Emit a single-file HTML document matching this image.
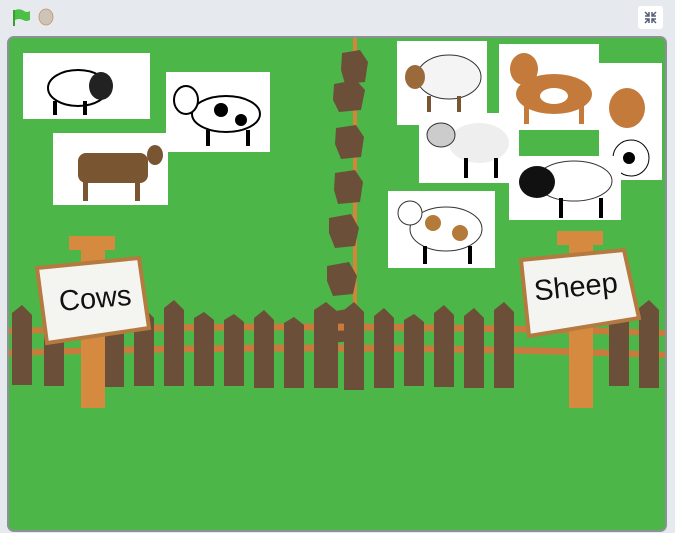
<!DOCTYPE html>
<html><head><meta charset="utf-8"><style>
body{margin:0;width:675px;height:533px;background:#e6e9ee;overflow:hidden;font-family:"Liberation Sans",sans-serif}
#bar{position:absolute;left:0;top:0;width:675px;height:35px;background:#e6e9ee}
#stage{position:absolute;left:7px;top:36px;width:656px;height:492px;background:#4cb748;border:2px solid #8d9196;border-radius:7px;overflow:hidden}
.pic{position:absolute;background:#fff}
</style></head><body>
<div id="bar">
<svg width="675" height="35">
<g><rect x="13" y="10" width="2" height="16" fill="#3e9a33"/><path d="M15 10 Q20 8 24 11 Q27 13 30 11 L30 20 Q26 22 23 20 Q19 18 15 20Z" fill="#4cbf47"/></g>
<ellipse cx="46" cy="17" rx="7" ry="8" fill="#cdc4b9" stroke="#c9925a" stroke-width="0.8"/>
<g><rect x="638" y="6" width="25" height="23" rx="3" fill="#fff"/>
<path d="M645 12l4 4M649 12v4h-4M656 12l-4 4M652 12v4h4M645 23l4-4M649 23v-4h-4M656 23l-4-4M652 23v-4h4" stroke="#575e75" stroke-width="1.5" fill="none"/></g>
</svg></div>
<div id="stage">
<svg width="656" height="492" style="position:absolute;left:0;top:0">
<g>
<rect x="344" y="0" width="4" height="300" fill="#d4853a"/>
<path d="M333 15l18-3 8 12-3 20-20 2-4-14z M325 46l22-4 9 10-4 20-22 2-6-12z M327 90l20-3 8 12-3 20-20 2-6-15z M326 135l20-3 8 12-3 20-22 2-4-14z M320 180l22-4 8 14-4 18-20 2-6-15z M318 228l22-4 8 14-4 18-20 2-6-15z M316 275l22-4 8 14-4 18-20 2-6-15z" fill="#6c4f39"/>
</g>
<g>
<path d="M0 290 Q330 280 656 292 L656 298 Q330 288 0 296Z" fill="#c97a3c"/>
<path d="M0 312 Q330 300 656 314 L656 320 Q330 308 0 318Z" fill="#c97a3c"/>
<g fill="#6c4f39">
<path d="M3 275l10-8 10 10v70H3z"/><path d="M35 280l10-6 10 8v66H35z"/><path d="M95 285l10-6 10 8v62H95z"/><path d="M125 278l10-8 10 10v68h-20z"/><path d="M155 270l10-8 10 10v76h-20z"/><path d="M185 280l10-6 10 8v66h-20z"/><path d="M215 282l10-6 10 8v64h-20z"/><path d="M245 280l10-8 10 10v68h-20z"/><path d="M275 285l10-6 10 8v63h-20z"/><path d="M305 272l12-8 12 10v76h-24z"/><path d="M335 272l10-8 10 10v78h-20z"/><path d="M365 278l10-8 10 10v70h-20z"/><path d="M395 282l10-6 10 8v64h-20z"/><path d="M425 275l10-8 10 10v72h-20z"/><path d="M455 278l10-8 10 10v70h-20z"/><path d="M485 272l10-8 10 10v76h-20z"/><path d="M600 280l10-6 10 8v66h-20z"/><path d="M630 270l10-8 10 10v78h-20z"/>
</g></g>
<g>
<rect x="72" y="200" width="24" height="170" fill="#d58a3f"/><rect x="60" y="198" width="46" height="14" fill="#d58a3f"/>
<path d="M28 230 L130 220 L140 290 L38 305Z" fill="#f4f4f0" stroke="#b47a3f" stroke-width="4"/>
<text x="50" y="270" font-size="29" font-family="'Liberation Sans',sans-serif" fill="#111" transform="rotate(-5 85 262)">Cows</text>
</g>
<g>
<rect x="560" y="195" width="24" height="175" fill="#d58a3f"/><rect x="548" y="193" width="46" height="14" fill="#d58a3f"/>
<path d="M512 222 L615 212 L630 280 L520 298Z" fill="#f4f4f0" stroke="#b47a3f" stroke-width="4"/>
<text x="525" y="258" font-size="29" font-family="'Liberation Sans',sans-serif" fill="#111" transform="rotate(-6 570 250)">Sheep</text>
</g>
</svg>
<div class="pic" style="left:14px;top:15px;width:127px;height:66px"><svg width="127" height="66"><ellipse cx="55" cy="35" rx="30" ry="18" fill="#fff" stroke="#000" stroke-width="2"/><ellipse cx="78" cy="33" rx="12" ry="14" fill="#222"/><rect x="30" y="48" width="4" height="14"/><rect x="60" y="48" width="4" height="14"/></svg></div>
<div class="pic" style="left:157px;top:34px;width:104px;height:80px"><svg width="104" height="80"><ellipse cx="60" cy="42" rx="34" ry="18" fill="#fff" stroke="#000" stroke-width="2"/><ellipse cx="20" cy="28" rx="12" ry="14" fill="#fff" stroke="#000" stroke-width="2"/><circle cx="55" cy="38" r="7"/><circle cx="75" cy="48" r="6"/><rect x="40" y="58" width="4" height="16"/><rect x="80" y="58" width="4" height="16"/></svg></div>
<div class="pic" style="left:44px;top:95px;width:115px;height:72px"><svg width="115" height="72"><rect x="25" y="20" width="70" height="30" rx="8" fill="#7a5532"/><ellipse cx="102" cy="22" rx="8" ry="10" fill="#7a5532"/><rect x="30" y="48" width="5" height="20" fill="#7a5532"/><rect x="82" y="48" width="5" height="20" fill="#7a5532"/></svg></div>
<div class="pic" style="left:388px;top:3px;width:90px;height:84px"><svg width="90" height="84"><ellipse cx="52" cy="36" rx="32" ry="22" fill="#f4f4f4" stroke="#333"/><ellipse cx="18" cy="36" rx="10" ry="12" fill="#9a6a3a"/><rect x="30" y="55" width="4" height="16" fill="#7a5532"/><rect x="60" y="55" width="4" height="16" fill="#7a5532"/></svg></div>
<div class="pic" style="left:490px;top:6px;width:100px;height:86px"><svg width="100" height="86"><ellipse cx="55" cy="50" rx="38" ry="20" fill="#c47a3a"/><ellipse cx="25" cy="25" rx="14" ry="16" fill="#c47a3a"/><ellipse cx="55" cy="52" rx="14" ry="8" fill="#fff"/><rect x="25" y="60" width="5" height="20" fill="#c47a3a"/><rect x="80" y="60" width="5" height="20" fill="#c47a3a"/></svg></div>
<div class="pic" style="left:590px;top:25px;width:63px;height:117px"><svg width="63" height="117"><ellipse cx="28" cy="45" rx="18" ry="20" fill="#c47a3a"/><ellipse cx="32" cy="95" rx="18" ry="18" fill="#fff" stroke="#000"/><circle cx="30" cy="95" r="6"/></svg></div>
<div class="pic" style="left:410px;top:75px;width:100px;height:70px"><svg width="100" height="70"><ellipse cx="60" cy="30" rx="30" ry="20" fill="#eee"/><ellipse cx="22" cy="22" rx="14" ry="12" fill="#ccc" stroke="#333"/><rect x="45" y="45" width="4" height="20"/><rect x="75" y="45" width="4" height="20"/></svg></div>
<div class="pic" style="left:500px;top:118px;width:112px;height:64px"><svg width="112" height="64"><ellipse cx="65" cy="25" rx="38" ry="20" fill="#fff" stroke="#333"/><ellipse cx="28" cy="26" rx="18" ry="16" fill="#111"/><rect x="50" y="42" width="4" height="20"/><rect x="90" y="42" width="4" height="20"/></svg></div>
<div class="pic" style="left:379px;top:153px;width:107px;height:77px"><svg width="107" height="77"><ellipse cx="58" cy="38" rx="36" ry="22" fill="#fff" stroke="#333"/><ellipse cx="22" cy="22" rx="12" ry="12" fill="#fff" stroke="#333"/><circle cx="45" cy="32" r="8" fill="#b47a3a"/><circle cx="72" cy="42" r="8" fill="#b47a3a"/><rect x="35" y="55" width="4" height="18"/><rect x="80" y="55" width="4" height="18"/></svg></div>
</div>
</body></html>
